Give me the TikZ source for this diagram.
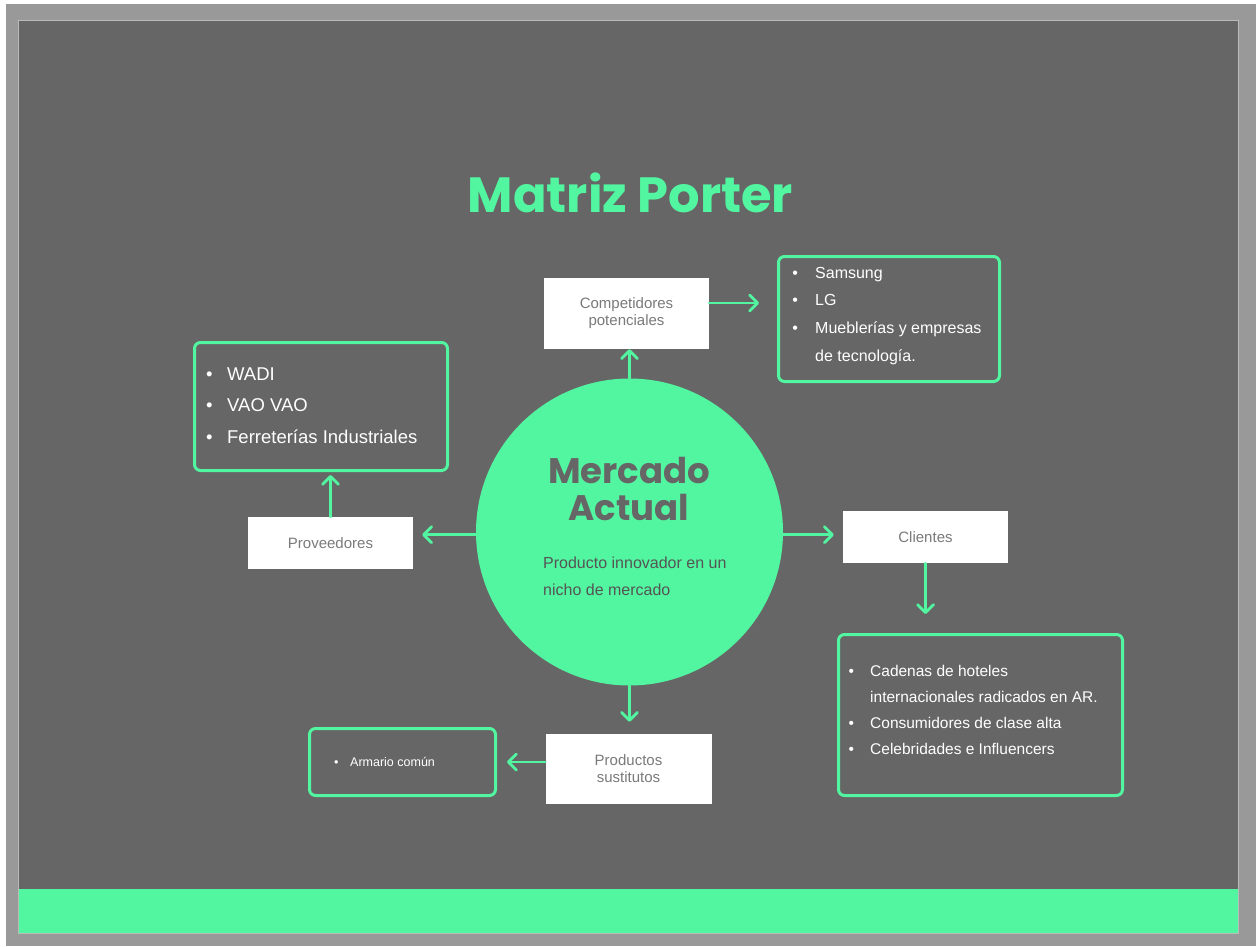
\documentclass[tikz,border=0pt]{standalone}
\usepackage{fontspec}
\setmainfont{Liberation Sans}
\newfontfamily\headfont{Poppins}
\usetikzlibrary{arrows.meta,calc}
\definecolor{mint}{HTML}{52F5A0}
\definecolor{slate}{HTML}{666666}
\definecolor{framegrey}{HTML}{999999}
\definecolor{framelight}{HTML}{BBBBBB}
\definecolor{boxtext}{HTML}{7A7A7A}
\definecolor{circtext}{HTML}{555555}
\newcommand{\blt}[1]{\makebox[#1][l]{•}}
\begin{document}
\begin{tikzpicture}[x=1pt,y=-1pt,
  whitebox/.style={fill=white, draw=none, inner sep=0pt, align=center, text=boxtext,
    font=\fontsize{15}{17}\selectfont},
  greenbox/.style={draw=mint, line width=3pt, rounded corners=6pt, inner sep=0pt},
  listtext/.style={anchor=base west, inner sep=0pt, text=white},
  arr/.style={draw=mint, line width=2.8pt, line cap=round, -{Straight Barb[length=8pt,width=16pt,round]}}
]
\useasboundingbox (0,0) rectangle (1256,946);
% frame
\fill[white] (0,0) rectangle (1256,946);
\fill[framegrey] (6,4) rectangle (1256,946);
\fill[slate] (18,20) rectangle (1238,889);
\fill[mint] (18,889) rectangle (1238,933);
\draw[framelight, line width=1pt] (18,20) rectangle (1238,933);

% title
\node[anchor=base, inner sep=0pt, text=mint, font=\headfont\bfseries\fontsize{49.5}{49.5}\selectfont] (title) at (630.5,212) {Matriz Porter};

% central circle
\node[circle, fill=mint, draw=none, minimum size=307pt, inner sep=0pt] (circ) at (629.5,532) {};
\node[anchor=base, inner sep=0pt, text=slate, font=\headfont\bfseries\fontsize{35.5}{37}\selectfont] (mtitle) at (629,483)
  {\begin{tabular}[t]{@{}c@{}}Mercado\\Actual\end{tabular}};
\node[anchor=base west, inner sep=0pt, text=circtext, font=\fontsize{16}{27}\selectfont] (mdesc) at (543,568)
  {\begin{tabular}[t]{@{}l@{}}Producto innovador en un\\nicho de mercado\end{tabular}};

% white boxes
\node[whitebox, minimum width=165pt, minimum height=71pt] (comp) at (626.5,313.5) {Competidores\\potenciales};
\node[whitebox, minimum width=165pt, minimum height=52pt] (prov) at (330.5,543) {Proveedores};
\node[whitebox, minimum width=165pt, minimum height=52pt] (cli) at (925.5,537) {Clientes};
\node[whitebox, minimum width=166pt, minimum height=70pt] (prod) at (628.5,769) {Productos\\sustitutos};

% green boxes
\node[greenbox, minimum width=221pt, minimum height=125pt] (trbox) at (889,319) {};
\node[greenbox, minimum width=253pt, minimum height=128pt] (lbox) at (321,406.5) {};
\node[greenbox, minimum width=186pt, minimum height=67pt] (blbox) at (402.5,762) {};
\node[greenbox, minimum width=284pt, minimum height=161pt] (brbox) at (980.5,715) {};

% lists
\node[listtext, font=\fontsize{16}{27.7}\selectfont] (trlist) at (792.2,278)
  {\begin{tabular}[t]{@{}l@{}}\blt{22.8pt}Samsung\\\blt{22.8pt}LG\\\blt{22.8pt}Mueblerías y empresas\\\hspace{22.8pt}de tecnología.\end{tabular}};
\node[listtext, font=\fontsize{18.5}{31.5}\selectfont] (llist) at (205.8,380)
  {\begin{tabular}[t]{@{}l@{}}\blt{21.2pt}WADI\\\blt{21.2pt}VAO VAO\\\blt{21.2pt}Ferreterías Industriales\end{tabular}};
\node[listtext, font=\fontsize{12.5}{15}\selectfont] (bllist) at (333.8,766)
  {\blt{16.2pt}Armario común};
\node[listtext, font=\fontsize{15.5}{26}\selectfont] (brlist) at (848.3,676)
  {\begin{tabular}[t]{@{}l@{}}\blt{21.7pt}Cadenas de hoteles\\\hspace{21.7pt}internacionales radicados en AR.\\\blt{21.7pt}Consumidores de clase alta\\\blt{21.7pt}Celebridades e Influencers\end{tabular}};

% connectors
\draw[arr] (circ.north) -- (circ.north |- comp.south);
\draw[arr, shorten >=18pt] (comp.east |- 0,303) -- (trbox.west |- 0,303);
\draw[arr, shorten >=9pt] (circ.181.5) -- (circ.181.5 -| prov.east);
\draw[arr, shorten >=3pt] (prov.north) -- (prov.north |- lbox.south);
\draw[arr, shorten >=9pt] (circ.-1.5) -- (circ.-1.5 -| cli.west);
\draw[arr, shorten >=19pt] (cli.south) -- (cli.south |- brbox.north);
\draw[arr, shorten >=12pt] (circ.south) -- (circ.south |- prod.north);
\draw[arr, shorten >=10pt] (prod.west |- blbox.east) -- (blbox.east);
\end{tikzpicture}
\end{document}
